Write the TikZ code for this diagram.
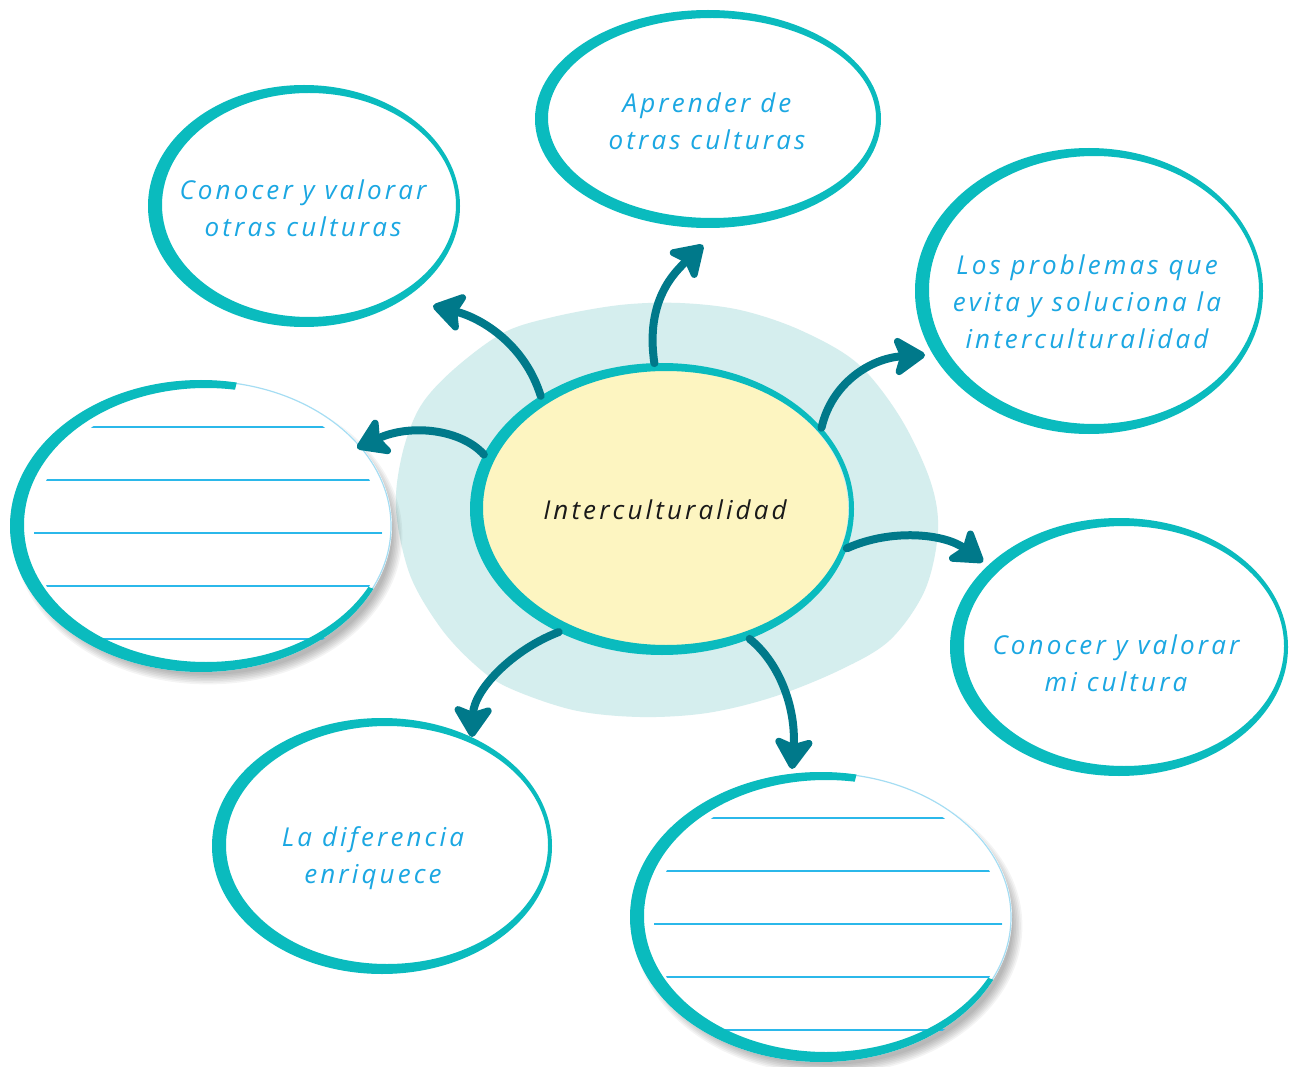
\documentclass[tikz,border=0pt]{standalone}
\usepackage{fontspec}
\setmainfont{Open Sans}
\newfontfamily\handfont[LetterSpace=12]{Open Sans}
\usetikzlibrary{arrows.meta,calc,shapes.geometric}
\definecolor{ringc}{RGB}{10,187,190}
\definecolor{arrowc}{RGB}{0,121,138}
\definecolor{blobc}{RGB}{213,238,238}
\definecolor{yellowc}{RGB}{253,245,193}
\definecolor{textc}{RGB}{27,167,226}
\definecolor{linec}{RGB}{43,184,234}
\definecolor{edgec}{RGB}{165,221,243}
\tikzset{
  bubble/.style={ellipse, inner sep=0pt, outer sep=0pt},
  label/.style={align=center, text=textc, font=\handfont\itshape\fontsize{26}{37}\selectfont},
  centre/.style={align=center, text=black!90, font=\handfont\itshape\fontsize{26}{30}\selectfont},
  arr/.style={draw=arrowc, line width=8pt, line cap=round,
    -{Stealth[length=36pt,width=46pt,inset=8pt,round]}},
}
% brush ring: node, rx, ry, thickness, inner x-offset, inner y-offset
\newcommand\brushring[6]{%
  \fill[ringc, even odd rule] (#1.center) ellipse [x radius=#2, y radius=#3]
    ($(#1.center)+(#5,#6)$) ellipse [x radius=#2-#4, y radius=#3-#4];}
% lined answer bubble: node, rx, ry
\newcommand\linedbubble[3]{%
  \foreach \k in {1,...,7}{
    \fill[black, opacity=0.045] ($(#1.center)+(7,9)$) ellipse [x radius=#2+5-\k*1.6, y radius=#3+5-\k*1.6];}
  \fill[white] (#1.center) ellipse [x radius=#2, y radius=#3];
  \begin{scope}
    \clip ($(#1.center)+(7,7)$) ellipse [x radius=174, y radius=142];
    \foreach \dy in {-99,-46,7,60,113}{
      \draw[linec, line width=1.8pt] ($(#1.center)+(-200,\dy)$) -- ($(#1.center)+(220,\dy)$);}
  \end{scope}
  \draw[edgec, line width=1.2pt] (#1.center) ellipse [x radius=#2-1, y radius=#3-1];
  \begin{scope}
    \clip (#1.center) -- ($(#1.center)+(76:500pt)$) -- ($(#1.center)+(180:500pt)$)
      -- ($(#1.center)+(270:500pt)$) -- ($(#1.center)+(340:500pt)$) -- cycle;
    \brushring{#1}{#2}{#3}{9}{5}{-1}
  \end{scope}}
\begin{document}
\begin{tikzpicture}[x=1pt, y=-1pt]
\useasboundingbox (0,0) rectangle (1291,1067);
\fill[white] (0,0) rectangle (1291,1067);

% background blob
\fill[blobc] plot[smooth cycle, tension=0.55] coordinates {(396,510) (402,455) (420,407) (453,370) (503,333) (553,317) (620,305) (680,303) (740,310) (800,330) (857,363) (900,417) (930,480) (938,530) (925,590) (890,640) (840,670) (773,697) (707,713) (640,717) (573,710) (507,687) (473,663) (440,627) (410,575)};

% bubbles (nodes)
\node[bubble, minimum width=384pt, minimum height=292pt] (c) at (662,509) {};
\node[bubble, minimum width=312pt, minimum height=242pt] (tl) at (304,206) {};
\node[bubble, minimum width=346pt, minimum height=218pt] (top) at (708,119) {};
\node[bubble, minimum width=348pt, minimum height=286pt] (rt) at (1089,291) {};
\node[bubble, minimum width=338pt, minimum height=258pt] (rm) at (1119,647) {};
\node[bubble, minimum width=340pt, minimum height=256pt] (bl) at (382,846) {};
\node[bubble, minimum width=382pt, minimum height=292pt] (ll) at (201,526) {};
\node[bubble, minimum width=382pt, minimum height=290pt] (lb) at (821,917) {};

% centre
\fill[yellowc] (c.center) ellipse [x radius=186, y radius=140];
\brushring{c}{192}{146}{9}{4}{-1}

% outer rings
\brushring{tl}{156}{121}{9}{5}{-1}
\brushring{top}{173}{109}{9}{4}{-1}
\brushring{rt}{174}{143}{9}{5}{-1}
\brushring{rm}{169}{129}{9}{5}{-1}
\brushring{bl}{170}{128}{9}{5}{-1}

% lined answer bubbles
\linedbubble{ll}{191}{146}
\linedbubble{lb}{191}{145}

% arrow tips
\coordinate (tTL) at (433,306);
\coordinate (tTop) at (703,245);
\coordinate (tRT) at (925,355);
\coordinate (tRM) at (983,562);
\coordinate (tLL) at (357,448);
\coordinate (tBL) at (472,737);
\coordinate (tLB) at (792,769);

\draw[arr] (c.137.6) .. controls (525,345) and (482,318) .. (tTL);
\draw[arr] (c.93.7) .. controls (645,300) and (675,272) .. (tTop);
\draw[arr] (c.27.8) .. controls (832,382) and (872,358) .. (tRT);
\draw[arr] (c.-12.4) .. controls (892,528) and (945,534) .. (tRM);
\draw[arr] (c.163.2) .. controls (462,430) and (412,423) .. (tLL);
\draw[arr] (c.230.2) .. controls (512,650) and (474,690) .. (tBL);
\draw[arr] (c.-56.7) .. controls (782,665) and (796,712) .. (tLB);

% texts
\node[centre] (ct) at (665,510) {Interculturalidad};
\node[label] (ttl) at (303,208) {Conocer y valorar\\otras culturas};
\node[label] (ttop) at (707,121) {Aprender de\\otras culturas};
\node[label] (trt) at (1087,302) {Los problemas que\\evita y soluciona la\\interculturalidad};
\node[label] (trm) at (1116,663) {Conocer y valorar\\mi cultura};
\node[label] (tbl) at (373,858) {La diferencia\\enriquece};
\end{tikzpicture}
\end{document}
